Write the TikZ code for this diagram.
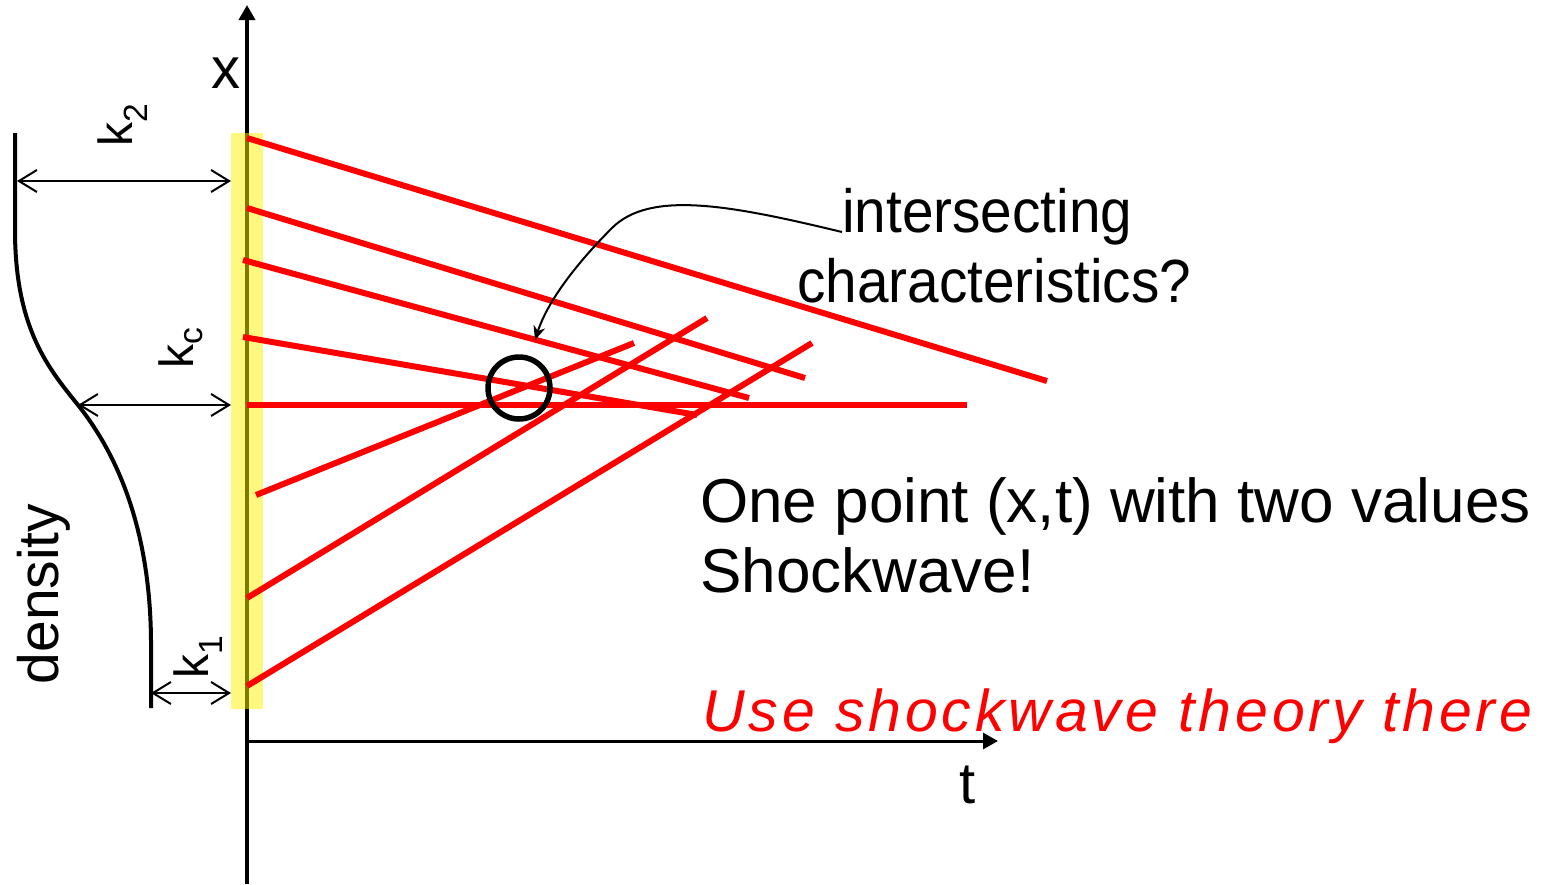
\documentclass[tikz,border=0pt]{standalone}
\usepackage{fontspec}
\setmainfont{Liberation Sans}
\newfontfamily\narrowfont[FakeStretch=0.93]{Liberation Sans}
\newfontfamily\spacedfont[LetterSpace=6.6]{Liberation Sans}
\usetikzlibrary{arrows.meta}

\begin{document}
\begin{tikzpicture}[x=1pt, y=-1pt,
    axis/.style={line width=3.5pt, -{Triangle[length=15pt,width=16pt]}},
    charline/.style={red, line width=6pt},
    dimarrow/.style={line width=2pt, {Straight Barb[length=18pt,width=22pt]}-{Straight Barb[length=18pt,width=22pt]}},
    klabel/.style={rotate=90, inner sep=0pt, font=\fontsize{48}{48}\selectfont},
    bigtext/.style={anchor=base west, inner sep=0pt, font=\fontsize{62}{62}\selectfont}
]
\useasboundingbox (0,0) rectangle (1542,884);

% Axes
\draw[axis] (247,884) -- (247,5);
\draw[axis, line width=3pt] (245,741) -- (998,741);
\node[anchor=base, inner sep=0pt, font=\fontsize{58}{58}\selectfont] (xlab) at (226,88) {x};
\node[anchor=base, inner sep=0pt, font=\fontsize{58}{58}\selectfont] (tlab) at (968,803) {t};

% Initial condition band
\fill[yellow, opacity=0.5] (231,133) rectangle (263,709);

% Density profile
\draw[line width=4pt] (15,133) -- (15,230) .. controls (15,330) and (50,370) .. (78,405)
    .. controls (118,455) and (150,530) .. (151,640) -- (151,708);
\node[klabel, font=\fontsize{57}{57}\selectfont] (denslab) at (44,594) {density};

% Density levels
\coordinate (k2left) at (17,181);
\coordinate (k2band) at (231,181);
\coordinate (kcleft) at (78,405);
\coordinate (kcband) at (231,405);
\coordinate (k1left) at (151,693);
\coordinate (k1band) at (231,693);
\draw[dimarrow] (k2left) -- (k2band);
\draw[dimarrow] (kcleft) -- (kcband);
\draw[dimarrow] (k1left) -- (k1band);
\node[klabel] (k2lab) at (123,125) {k\textsubscript{2}};
\node[klabel] (kclab) at (181,348) {k\textsubscript{c}};
\node[klabel] (k1lab) at (198,657) {k\textsubscript{1}};

% Characteristics
\draw[charline] (247,138) -- (1047,381);
\draw[charline] (247,208) -- (805,378);
\draw[charline] (243,260) -- (749,398);
\draw[charline] (243,337) -- (697,415);
\draw[charline] (247,405) -- (967,405);
\draw[charline] (256,495) -- (634,343);
\draw[charline] (247,598) -- (707,318);
\draw[charline] (247,686) -- (812,343);

% Crossing point
\draw[line width=5.5pt] (519,388) circle [radius=31];

% Texts
\node[bigtext, font=\narrowfont\fontsize{61}{61}\selectfont] (inter) at (842,232) {intersecting};
\node[bigtext, font=\narrowfont\fontsize{61}{61}\selectfont] (charac) at (797,302) {characteristics?};
\node[bigtext] (onept) at (700,522) {One point (x,t) with two values};
\node[bigtext] (shock) at (700,592) {Shockwave!};
\node[bigtext, red, font=\spacedfont\itshape\fontsize{59}{59}\selectfont] (usesw) at (702,731) {Use shockwave theory there};

% Pointer
\coordinate (crosstip) at (535,340);
\draw[line width=2pt, -{Stealth[length=14pt,width=12pt]}] (inter.base west)
    .. controls (730,205) and (650,190) .. (612,228)
    .. controls (578,262) and (548,300) .. (crosstip);

\end{tikzpicture}
\end{document}
